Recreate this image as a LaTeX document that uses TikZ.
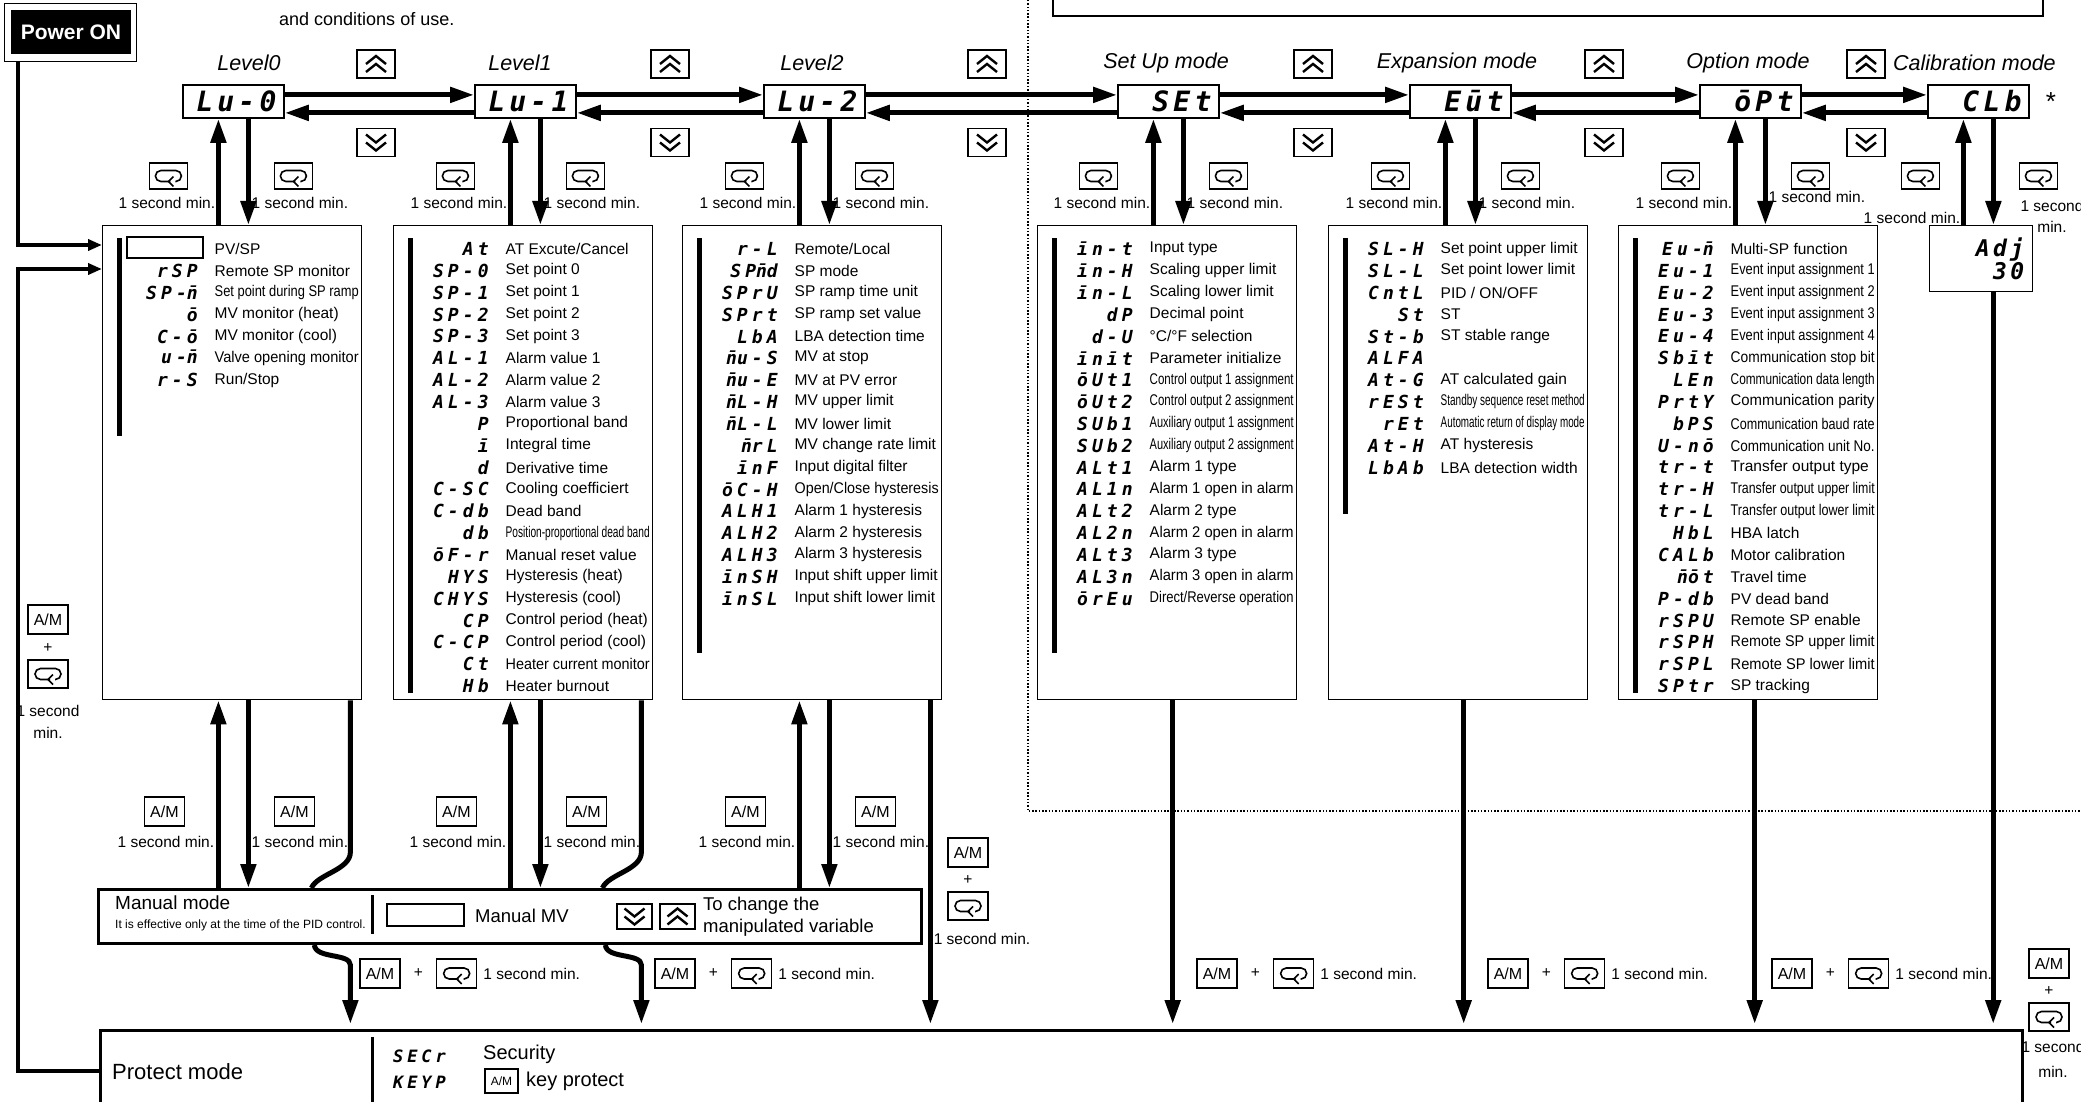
\documentclass[tikz,border=0pt]{standalone}
\usepackage{fontspec}
\setmainfont{Liberation Sans}
\newfontfamily\codefont{DejaVu Sans Mono}[LetterSpace=23]
\newfontfamily\dispfont{DejaVu Sans Mono}[LetterSpace=15]
\usepackage{graphicx}
\usetikzlibrary{arrows.meta,positioning}

\newcommand\segbar[1]{\ooalign{#1\cr\hidewidth¯\hidewidth\cr}}
\newcommand\fitto[2]{\sbox0{#2}\ifdim\wd0>#1\relax\resizebox{#1}{\height}{#2}\else\usebox0\fi}
\newcommand\fsz[1]{\fontsize{#1}{#1}\selectfont}

\begin{document}
\begin{tikzpicture}[x=1pt,y=-1pt,>=Stealth]
\tikzset{disp/.style={draw,line width=1.8pt,anchor=north west,minimum height=33pt,text width=86pt,align=right,inner xsep=7.5pt,inner ysep=0pt,font={\dispfont\bfseries\itshape\fsz{28}}},
lbox/.style={draw,line width=1.4pt,anchor=north west,minimum width=259pt,minimum height=474pt,inner sep=0pt},
code/.style={anchor=east,inner sep=0pt,font={\codefont\bfseries\itshape\fsz{18}}},
row/.style={anchor=west,inner sep=0pt,font=\fsz{15.5}},
ttl/.style={inner sep=0pt,font={\itshape\fsz{21.5}}},
lbl/.style={inner sep=0pt,font=\fsz{15.5}},
pls/.style={inner sep=0pt,font=\fsz{15.5}},
fwd/.style={line width=5pt,-{Triangle[length=24pt,width=15pt]}},
thk/.style={line width=5pt},
keyb/.style={draw,line width=1.2pt,inner sep=0pt,fill=white},
ukey/.style={keyb,minimum width=38pt,minimum height=28pt,path picture={\begin{scope}[shift={(path picture bounding box.center)}]\draw[line width=2.4pt] (-10,0)--(0,-8)--(10,0) (-10,8)--(0,0)--(10,8);\end{scope}}},
dkey/.style={keyb,minimum width=38pt,minimum height=28pt,path picture={\begin{scope}[shift={(path picture bounding box.center)}]\draw[line width=2.4pt] (-10,0)--(0,8)--(10,0) (-10,-8)--(0,0)--(10,-8);\end{scope}}},
ekey/.style={keyb,minimum width=38pt,minimum height=26pt,path picture={\begin{scope}[shift={(path picture bounding box.center)}]\draw[line width=1.6pt,rounded corners=5.5pt] (2,5.5)--(-13,5.5)--(-13,-5.5)--(13,-5.5)--(13,5.5)--(7,5.5);\draw[line width=1.6pt] (5,0.5)--(0,5.5)--(5,10.5);\end{scope}}},
amk/.style={keyb,minimum width=40pt,minimum height=29pt,font=\fsz{16}}}
\clip (0,0) rectangle (2081,1102);
% power on and note
\node[fill=black,text=white,font={\bfseries\fsz{21}},minimum width=120pt,minimum height=44pt,inner sep=0pt] (pwr) at (71,32) {Power ON};
\draw[line width=1.2pt] ([shift={(-6pt,6pt)}]pwr.north west) rectangle ([shift={(5pt,-7pt)}]pwr.south east);
\coordinate (pwrft) at ([xshift=7pt,yshift=-7pt]pwr.south west);
\node[anchor=west,inner sep=0pt,font=\fsz{18}] (note) at (279,19) {\fitto{201pt}{and conditions of use.}};
\draw[line width=1.5pt] (1053,-10) rectangle (2043,16);
\draw[line width=1.2pt,dash pattern=on 1.5pt off 1.8pt] (1028,0) -- (1028,811) -- (2081,811);
% mode displays
\node[disp] (lv0) at (182,84) {Lu-0};
\node[disp] (lv1) at (474,84) {Lu-1};
\node[disp] (lv2) at (763,84) {Lu-2};
\node[disp] (set) at (1117,84) {SEt};
\node[disp] (ext) at (1409,84) {Eūt};
\node[disp] (opt) at (1699,84) {ōPt};
\node[disp] (clb) at (1927,84) {CLb};
\node[font=\fsz{26},inner sep=0pt] (star) at (2051,102) {*};
\node[ttl] (t0) at (249,63) {Level0};
\node[ttl] (t1) at (520,63) {Level1};
\node[ttl] (t2) at (812,63) {Level2};
\node[ttl] (t3) at (1166,63) {Set Up mode};
\node[ttl] (t4) at (1457,63) {Expansion mode};
\node[ttl] (t5) at (1748,63) {Option mode};
\node[ttl,anchor=west] (t6) at (1893,63) {Calibration mode};
\foreach \x [count=\k] in {376,670,987,1313,1604,1866} {\node[ukey] (uk\k) at (\x,64) {}; \node[dkey] (dk\k) at (\x,142.5) {};}
\foreach \a/\b in {lv0/lv1,lv1/lv2,lv2/set,set/ext,ext/opt,opt/clb} {
  \draw[fwd] ([yshift=6.5pt]\a.east) -- ([yshift=6.5pt]\b.west);
  \draw[fwd] ([yshift=-11.5pt]\b.west) -- ([yshift=-11.5pt]\a.east);}
% parameter lists
\node[lbox] (l0box) at (102,225) {};
\node[lbox] (l1box) at (393,225) {};
\node[lbox] (l2box) at (682,225) {};
\node[lbox] (supbox) at (1037,225) {};
\node[lbox] (expbox) at (1328,225) {};
\node[lbox] (optbox) at (1618,225) {};
\node[draw,line width=1.4pt,anchor=north west,minimum width=103pt,minimum height=66pt,text width=86pt,align=right,inner xsep=8.5pt,inner ysep=0pt,font={\dispfont\bfseries\itshape\fsz{23}}] (adj) at (1929,225) {Adj\\30};
\fill (117,238) rectangle (122,436);
\fill (408,238) rectangle (413,693);
\fill (697,238) rectangle (702,653);
\fill (1052,238) rectangle (1057,653);
\fill (1343,238) rectangle (1348,514);
\fill (1633,238) rectangle (1638,693);
\node[draw,line width=1.2pt,minimum width=76pt,minimum height=21pt,inner sep=0pt] (pvsp) at (165,247.5) {};
\node[row] (t0r0) at (214.5,249) {PV/SP};
\foreach \c/\t [count=\i] in {{rSP}/{Remote SP monitor},{SP-\segbar{n}}/{Set point during SP ramp},{ō}/{MV monitor (heat)},{C-ō}/{MV monitor (cool)},{u-\segbar{n}}/{Valve opening monitor},{r-S}/{Run/Stop}} {
  \node[code] (c0r\i) at (198,{271+21.8*(\i-1)}) {\c};
  \node[row] (t0r\i) at (214.5,{271+21.8*(\i-1)}) {\fitto{144pt}{\t}};}
\foreach \c/\t [count=\i] in {{At}/{AT Excute/Cancel},{SP-0}/{Set point 0},{SP-1}/{Set point 1},{SP-2}/{Set point 2},{SP-3}/{Set point 3},{AL-1}/{Alarm value 1},{AL-2}/{Alarm value 2},{AL-3}/{Alarm value 3},{P}/{Proportional band},{ī}/{Integral time},{d}/{Derivative time},{C-SC}/{Cooling coefficiert},{C-db}/{Dead band},{db}/{Position-proportional dead band},{ōF-r}/{Manual reset value},{HYS}/{Hysteresis (heat)},{CHYS}/{Hysteresis (cool)},{CP}/{Control period (heat)},{C-CP}/{Control period (cool)},{Ct}/{Heater current monitor},{Hb}/{Heater burnout}} {
  \node[code] (c1r\i) at (489,{249+21.85*(\i-1)}) {\c};
  \node[row] (t1r\i) at (505.5,{249+21.85*(\i-1)}) {\fitto{144pt}{\t}};}
\foreach \c/\t [count=\i] in {{r-L}/{Remote/Local},{SP\segbar{n}d}/{SP mode},{SPrU}/{SP ramp time unit},{SPrt}/{SP ramp set value},{LbA}/{LBA detection time},{\segbar{n}u-S}/{MV at stop},{\segbar{n}u-E}/{MV at PV error},{\segbar{n}L-H}/{MV upper limit},{\segbar{n}L-L}/{MV lower limit},{\segbar{n}rL}/{MV change rate limit},{īnF}/{Input digital filter},{ōC-H}/{Open/Close hysteresis},{ALH1}/{Alarm 1 hysteresis},{ALH2}/{Alarm 2 hysteresis},{ALH3}/{Alarm 3 hysteresis},{īnSH}/{Input shift upper limit},{īnSL}/{Input shift lower limit}} {
  \node[code] (c2r\i) at (778,{249+21.85*(\i-1)}) {\c};
  \node[row] (t2r\i) at (794.5,{249+21.85*(\i-1)}) {\fitto{144pt}{\t}};}
\foreach \c/\t [count=\i] in {{īn-t}/{Input type},{īn-H}/{Scaling upper limit},{īn-L}/{Scaling lower limit},{dP}/{Decimal point},{d-U}/{°C/°F selection},{īnīt}/{Parameter initialize},{ōUt1}/{Control output 1 assignment},{ōUt2}/{Control output 2 assignment},{SUb1}/{Auxiliary output 1 assignment},{SUb2}/{Auxiliary output 2 assignment},{ALt1}/{Alarm 1 type},{AL1n}/{Alarm 1 open in alarm},{ALt2}/{Alarm 2 type},{AL2n}/{Alarm 2 open in alarm},{ALt3}/{Alarm 3 type},{AL3n}/{Alarm 3 open in alarm},{ōrEu}/{Direct/Reverse operation}} {
  \node[code] (c3r\i) at (1133,{249+21.85*(\i-1)}) {\c};
  \node[row] (t3r\i) at (1149.5,{249+21.85*(\i-1)}) {\fitto{144pt}{\t}};}
\foreach \c/\t [count=\i] in {{SL-H}/{Set point upper limit},{SL-L}/{Set point lower limit},{CntL}/{PID / ON/OFF},{St}/{ST},{St-b}/{ST stable range},{ALFA}/{},{At-G}/{AT calculated gain},{rESt}/{Standby sequence reset method},{rEt}/{Automatic return of display mode},{At-H}/{AT hysteresis},{LbAb}/{LBA detection width}} {
  \node[code] (c4r\i) at (1424,{249+21.85*(\i-1)}) {\c};
  \node[row] (t4r\i) at (1440.5,{249+21.85*(\i-1)}) {\fitto{144pt}{\t}};}
\foreach \c/\t [count=\i] in {{Eu-\segbar{n}}/{Multi-SP function},{Eu-1}/{Event input assignment 1},{Eu-2}/{Event input assignment 2},{Eu-3}/{Event input assignment 3},{Eu-4}/{Event input assignment 4},{Sbīt}/{Communication stop bit},{LEn}/{Communication data length},{PrtY}/{Communication parity},{bPS}/{Communication baud rate},{U-nō}/{Communication unit No.},{tr-t}/{Transfer output type},{tr-H}/{Transfer output upper limit},{tr-L}/{Transfer output lower limit},{HbL}/{HBA latch},{CALb}/{Motor calibration},{\segbar{n}ōt}/{Travel time},{P-db}/{PV dead band},{rSPU}/{Remote SP enable},{rSPH}/{Remote SP upper limit},{rSPL}/{Remote SP lower limit},{SPtr}/{SP tracking}} {
  \node[code] (c5r\i) at (1714,{249+21.85*(\i-1)}) {\c};
  \node[row] (t5r\i) at (1730.5,{249+21.85*(\i-1)}) {\fitto{144pt}{\t}};}
% display <-> list
\foreach \d/\b in {lv0/l0box,lv1/l1box,lv2/l2box,set/supbox,ext/expbox,opt/optbox,clb/adj} {
  \draw[fwd] ([xshift=-15pt]\d.south |- \b.north) -- ([xshift=-15pt]\d.south);
  \draw[fwd] ([xshift=15pt]\d.south) -- ([xshift=15pt]\d.south |- \b.north);}
\foreach \d/\lo in {lv0/-65,lv1/-70,lv2/-70,set/-70,ext/-70,opt/-70,clb/-58} {
  \node[ekey] (ek1\d) at ([xshift=\lo pt]\d.south |- 0,176) {};
  \node[ekey] (ek2\d) at ([xshift=60pt]\d.south |- 0,176) {};}
\foreach \d/\ry in {lv0/203,lv1/203,lv2/203,set/203,ext/203,opt/197} {
  \node[lbl,anchor=east] (sl\d) at ([xshift=-18pt]\d.south |- 0,203) {1 second min.};
  \node[lbl,anchor=west] (sr\d) at ([xshift=18pt]\d.south |- 0,\ry) {1 second min.};}
\node[lbl,anchor=east] (slclb) at ([xshift=-18pt]clb.south |- 0,218) {1 second min.};
\node[lbl,align=center,font=\fontsize{15.5}{21}\selectfont] (srclb) at (2052,216) {1 second\\min.};
% manual mode
\node[draw,line width=3pt,anchor=north west,minimum width=823pt,minimum height=54pt,inner sep=0pt] (man) at (97,888) {};
\node[anchor=west,inner sep=0pt,font=\fsz{19}] (mant) at (115,903) {\fitto{116pt}{Manual mode}};
\node[anchor=west,inner sep=0pt,font=\fsz{12}] (mann) at (115,925) {\fitto{252pt}{It is effective only at the time of the PID control.}};
\fill (370.5,895) rectangle (373.5,934);
\node[draw,line width=1.2pt,minimum width=77pt,minimum height=22pt,inner sep=0pt] (mvbox) at (425.5,915) {};
\node[anchor=west,inner sep=0pt,font=\fsz{18.5}] (mvt) at (475,916) {\fitto{94pt}{Manual MV}};
\node[dkey,minimum width=35pt,minimum height=25pt] (mdk) at (634.5,916.5) {};
\node[ukey,minimum width=35pt,minimum height=25pt] (muk) at (677.5,916.5) {};
\node[anchor=west,align=left,inner sep=0pt,font=\fontsize{18.5}{22}\selectfont] (mchg) at (703,917) {To change the\\manipulated variable};
\foreach \d/\b in {lv0/l0box,lv1/l1box,lv2/l2box} {
  \draw[fwd] ([xshift=-15pt]\d.south |- man.north) -- ([xshift=-15pt]\d.south |- \b.south);
  \draw[fwd] ([xshift=15pt]\d.south |- \b.south) -- ([xshift=15pt]\d.south |- man.north);
  \node[amk] (am1\d) at ([xshift=-69pt]\d.south |- 0,811.5) {A/M};
  \node[amk] (am2\d) at ([xshift=61pt]\d.south |- 0,811.5) {A/M};
  \node[lbl,anchor=east] (bs1\d) at ([xshift=-19pt]\d.south |- 0,842) {1 second min.};
  \node[lbl,anchor=west] (bs2\d) at ([xshift=18pt]\d.south |- 0,842) {1 second min.};}
% protect mode
\node[draw,line width=2.5pt,anchor=north west,minimum width=1922pt,minimum height=82pt,inner sep=0pt] (prot) at (99,1029) {};
\node[anchor=west,inner sep=0pt,font=\fsz{22}] (ptxt) at (112,1072) {\fitto{142pt}{Protect mode}};
\fill (370.5,1037) rectangle (373.5,1110);
\node[code,font={\codefont\bfseries\itshape\fsz{17}}] (psec) at (446,1056) {SECr};
\node[code,font={\codefont\bfseries\itshape\fsz{17}}] (pkey) at (446,1082) {KEYP};
\node[anchor=west,inner sep=0pt,font=\fsz{20}] (psect) at (483,1054) {\fitto{79pt}{Security}};
\node[amk,minimum width=33pt,minimum height=24pt,font=\fsz{12}] (pam) at (501.5,1081) {A/M};
\node[anchor=west,inner sep=0pt,font=\fsz{20}] (pkp) at (526,1081) {\fitto{106pt}{key protect}};
% to protect mode
\coordinate (by0) at ([xshift=-12pt]l0box.south east);
\coordinate (by1) at ([xshift=-12pt]l1box.south east);
\coordinate (by2) at ([xshift=-12pt]l2box.south east);
\foreach \b in {by0,by1} {
  \draw[thk] (\b) -- ([yshift=36pt]\b |- man.north) .. controls +(0,18) and +(6,-14) .. ([xshift=-39pt]\b |- man.north);
  \draw[fwd,shorten >=5pt] ([xshift=-36pt]\b |- man.south) .. controls +(1,14) and +(0,-12) .. ([yshift=-20pt]\b |- man.south) -- (\b |- prot.north);}
\draw[fwd,shorten >=5pt] (by2) -- (by2 |- prot.north);
\draw[fwd,shorten >=5pt] ([xshift=5.5pt]supbox.south) -- ([xshift=5.5pt]supbox.south |- prot.north);
\draw[fwd,shorten >=5pt] ([xshift=5.5pt]expbox.south) -- ([xshift=5.5pt]expbox.south |- prot.north);
\draw[fwd,shorten >=5pt] ([xshift=6.5pt]optbox.south) -- ([xshift=6.5pt]optbox.south |- prot.north);
\draw[fwd,shorten >=5pt] ([xshift=12pt]adj.south) -- ([xshift=12pt]adj.south |- prot.north);
\foreach \n/\x in {0/380,1/675,2/1217,3/1508,4/1792} {
  \node[amk] (amb\n) at (\x,973.5) {A/M};
  \node[pls,right=13pt of amb\n] (plb\n) {+};
  \node[ekey,minimum width=40pt,minimum height=29pt,right=13pt of plb\n] (enb\n) {};
  \node[lbl,right=6pt of enb\n] (sb\n) {1 second min.};}
\node[amk] (amm) at (968,852.5) {A/M};
\node[pls] (plm) at (968,880) {+};
\node[ekey,minimum width=40pt,minimum height=28pt] (enm) at (968,906) {};
\node[lbl] (sm) at (982,939) {1 second min.};
\node[amk] (amr) at (2049,963.5) {A/M};
\node[pls] (plr) at (2049,991) {+};
\node[ekey,minimum width=40pt,minimum height=28pt] (enr) at (2049,1017) {};
\node[lbl,align=center,font=\fontsize{15.5}{25}\selectfont] (sr) at (2053,1059) {1 second\\min.};
% back to level0
\node[amk] (aml) at (48,619.5) {A/M};
\node[pls] (pll) at (48,648) {+};
\node[ekey,minimum width=40pt,minimum height=28pt] (enl) at (48,674) {};
\node[lbl,align=center,font=\fontsize{15.5}{22}\selectfont] (sl) at (48,722) {1 second\\min.};
\draw[line width=4pt,-{Triangle[length=14pt,width=11pt]}] (pwrft) |- ([yshift=-20pt]l0box.north west);
\draw[line width=4pt,-{Triangle[length=14pt,width=11pt]}] (prot.west) -- (prot.west -| pwrft) |- ([yshift=-44pt]l0box.north west);
\end{tikzpicture}
\end{document}
